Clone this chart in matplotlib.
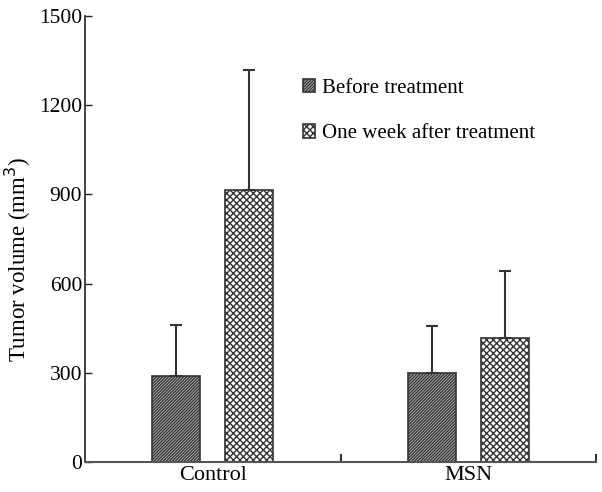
import matplotlib
matplotlib.use("Agg")
import matplotlib.pyplot as plt
import numpy as np

categories = ["Control", "MSN"]
before = [289, 299]
before_err = [172, 158]
after = [915, 417]
after_err = [403, 225]
series_labels = ["Before treatment", "One week after treatment"]
yticks = [0, 300, 600, 900, 1200, 1500]

plt.rcParams['font.family'] = ['Liberation Serif', 'DejaVu Serif']
plt.rcParams['hatch.color'] = '#3a3a3a'
plt.rcParams['hatch.linewidth'] = 1.0

fig = plt.figure(figsize=(6.02, 4.92), dpi=100)
ax = fig.add_axes([85/602, 1-462/492, (596-85)/602, (462-16)/492])

x = np.arange(len(categories))
w = 0.188
off = 0.143
b1 = ax.bar(x - off, before, w, color='#c4c4c4', edgecolor='#333333', linewidth=1.2,
            hatch='///////////', label=series_labels[0])
b2 = ax.bar(x + off, after, w, color='white', edgecolor='#333333', linewidth=1.2,
            hatch='xxxxx', label=series_labels[1])
ax.errorbar(x - off, before, yerr=[np.zeros(2), before_err], fmt='none',
            ecolor='#333333', elinewidth=1.5, capsize=4, capthick=1.5)
ax.errorbar(x + off, after, yerr=[np.zeros(2), after_err], fmt='none',
            ecolor='#333333', elinewidth=1.5, capsize=4, capthick=1.5)

ax.set_xlim(-0.5, 1.5)
ax.set_ylim(0, 1500)
ax.set_yticks(yticks)
ax.set_yticklabels([str(v) for v in yticks], fontsize=15.5)
ax.tick_params(axis='y', direction='in', length=5, width=1, pad=2, color='#222222')
ax.set_xticks([0.5, 1.5])
ax.set_xticklabels(['', ''])
ax.tick_params(axis='x', direction='in', length=6, width=1.5, color='#333333')
for i, c in enumerate(categories):
    ax.text(x[i], -12, c, ha='center', va='top', fontsize=16)

for s in ['top', 'right']:
    ax.spines[s].set_visible(False)
ax.spines['left'].set_color('#222222')
ax.spines['left'].set_linewidth(1.2)
ax.spines['bottom'].set_color('#555555')
ax.spines['bottom'].set_linewidth(1.5)

fig.text(18/602, 1-259/492, 'Tumor volume (mm$^3$)', fontsize=16.5, rotation=90,
         ha='center', va='center')

leg = ax.legend(loc='upper left', bbox_to_anchor=(0.41, 0.877), frameon=False,
                fontsize=15, handlelength=0.6, handleheight=0.6, handletextpad=0.3,
                labelspacing=1.25, borderaxespad=0)

fig.savefig('out.png', dpi=100)
